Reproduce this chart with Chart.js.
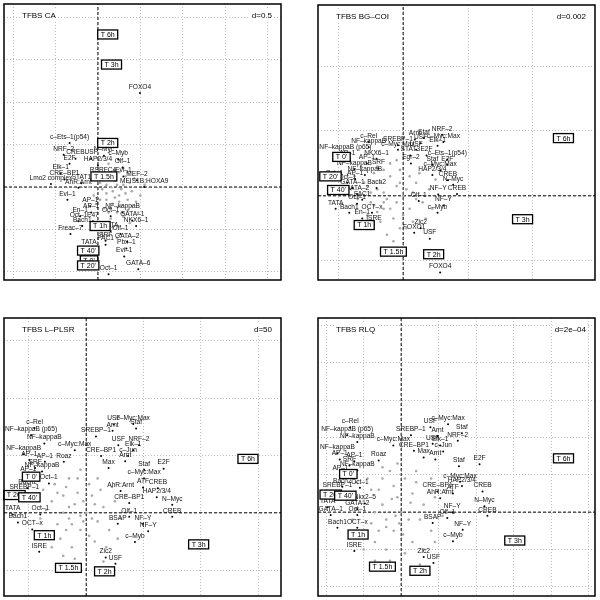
<!DOCTYPE html>
<html><head><meta charset="utf-8">
<script src="https://cdn.jsdelivr.net/npm/chart.js@4"></script>
<style>
html,body{margin:0;padding:0;background:#fff;width:600px;height:600px;overflow:hidden}
canvas{position:absolute}
</style></head><body>
<canvas id="c1" width="285" height="284" style="left:0px;top:0px"></canvas>
<canvas id="c2" width="285" height="283" style="left:314px;top:1px"></canvas>
<canvas id="c3" width="285" height="286" style="left:0px;top:314px"></canvas>
<canvas id="c4" width="285" height="286" style="left:314px;top:314px"></canvas>
<script>
// All coordinates are in grid units (one grid cell = d)
const timeLabels = ["T 0'","T 20'","T 40'","T 1h","T 1.5h","T 2h","T 3h","T 6h"];

// ---- Panel 1: TFBS CA (d=0.5)
const caRangeX = [-2.217, 4.319];
const caRangeY = [-2.194, 4.319];
const caNames = ["FOXO4","c–Ets–1(p54)","NRF–2","CREB","USF","N–Myc","c–Myb","E2F","HAP2/3/4","Olf–1","Elk–1","RSRFC4","Evi–1","CRE–BP1","MEF–2","Lmo2 complex","STAT1","AhR:Arnt","MEIS1B:HOXA9","Evi–1","AP–1","AP–1","NF–kappaB","En–1","Oct–1","GATA–1","Oct–1","E47","Bach1","NKX6–1","TATA","Freac–7","Olf–1","SRF","GATA–2","FAC1","TATA","Pbx–1","Evi–1","GATA–6","Oct–1"];
const caX = [0.99,-0.67,-0.81,-0.53,-0.16,0.14,0.48,-0.67,0,0.58,-0.88,0.12,0.6,-0.79,0.92,-1.11,-0.39,-0.46,1.09,-0.72,-0.18,-0.16,0.58,-0.42,0.30,0.81,-0.46,-0.12,-0.37,0.90,0.30,-0.65,0.53,0.18,0.69,0.18,-0.21,0.67,0.62,0.95,0.25];
const caY = [2.22,1.04,0.76,0.67,0.67,0.74,0.65,0.55,0.51,0.46,0.32,0.25,0.25,0.18,0.16,0.07,0.09,-0.02,0,-0.30,-0.46,-0.60,-0.60,-0.69,-0.69,-0.79,-0.81,-0.81,-0.92,-0.92,-1.04,-1.11,-1.11,-1.27,-1.29,-1.36,-1.45,-1.45,-1.64,-1.94,-2.06];
const caTimeX = [-0.21,-0.23,-0.23,0.05,0.14,0.23,0.32,0.23];
const caTimeY = [-1.73,-1.85,-1.50,-0.92,0.25,1.04,2.89,3.60];
const caCloud = [[0.35,-0.1],[0.5,-0.2],[0.2,-0.3],[0.6,0.05],[0.4,0.15],[0.1,-0.05],[0.7,-0.3],[0.25,0.3],[0.55,-0.45],[0.8,-0.1],[0.15,-0.5],[0.45,-0.6],[0.3,-0.75],[0.65,0.25],[0.05,0.1],[0.9,-0.35],[0.75,0.1],[0.35,-0.4],[0.2,0.05],[0.5,0.35],[-0.1,-0.2],[0.1,-0.85],[0.6,-0.7],[0.85,0.2],[0.4,-0.25],[0.3,0.0],[0.7,-0.55],[0.2,-0.15],[1.0,-0.2],[0.45,0.05],[0.55,-0.05],[0.15,0.2],[-0.05,-0.4],[0.35,-0.95],[0.65,-0.15],[0.25,-0.6],[0.8,-0.45],[0.5,-0.35],[0.05,-0.3],[0.4,0.4],[1.1,0.05],[0.6,0.45],[0.3,-0.5],[0.95,-0.6],[0.1,-1.1],[0.45,-1.2],[0.75,-0.85],[-0.2,0.0],[0.25,0.55],[0.7,0.35]];

// ---- Panel 2: TFBS BG-COI (d=0.002)
const bgRangeX = [-1.312, 2.956];
const bgRangeY = [-1.297, 2.941];
const bgNames = ["NRF–2","Arnt","Staf","c–Myc:Max","USF","SREBP–1","Elk–1","c–Rel","NF–kappaB","c–Myc:Max","USF","NF–kappaB (p65)","STAT3","E2F","AP–1","NKX6–1","c–Ets–1(p54)","Egr–2","Staf","E2F","AP–1","NF–kappaB","SRF","c–Myc:Max","NF–kappaB","HAP2/3/4","AP–1","Oct–1","CREB","Oct–1","N–Myc","GATA–1","Bach2","GATA–2","NF–Y","CREB","FAC1","Olf–1","Oct–1","TATA","NF–Y","Bach1","OCT–x","c–Myb","En–1","ISRE","Zic2","FOXO1","USF","FOXO4"];
const bgX = [0.60,0.18,0.32,0.62,0.27,-0.08,0.53,-0.53,-0.53,-0.08,0.20,-0.89,0.11,0.36,-0.86,-0.41,0.68,0.12,0.45,0.68,-0.56,-0.75,-0.38,0.57,-0.59,0.45,-0.74,-1.06,0.69,-0.86,0.77,-0.78,-0.41,-0.71,0.54,0.83,-0.63,0.24,-0.71,-1.04,0.62,-0.83,-0.48,0.53,-0.63,-0.45,0.27,0.17,0.41,0.57];
const bgY = [0.94,0.87,0.89,0.83,0.81,0.78,0.77,0.83,0.75,0.71,0.71,0.65,0.62,0.62,0.57,0.57,0.56,0.50,0.48,0.48,0.50,0.41,0.42,0.39,0.32,0.32,0.26,0.26,0.24,0.20,0.17,0.12,0.12,0.03,0.02,0.03,-0.06,-0.08,-0.12,-0.20,-0.15,-0.26,-0.26,-0.26,-0.35,-0.44,-0.50,-0.57,-0.66,-1.18];
const bgTimeX = [-0.95,-1.12,-1.00,-0.60,-0.15,0.47,1.84,2.47];
const bgTimeY = [0.60,0.30,0.09,-0.45,-0.86,-0.90,-0.36,0.89];
const bgCloud = [[-0.25,-0.05],[-0.4,0.1],[-0.1,0.15],[-0.3,-0.2],[-0.5,-0.1],[0.0,0.0],[-0.2,0.3],[-0.6,0.2],[0.1,-0.2],[-0.35,-0.4],[-0.15,-0.35],[0.2,0.2],[-0.45,0.35],[-0.05,0.4],[-0.7,-0.05],[0.15,0.05],[-0.3,0.05],[-0.55,-0.3],[0.05,-0.5],[-0.25,-0.6],[0.3,-0.1],[-0.1,-0.1],[-0.4,-0.25],[0.25,0.35],[-0.65,0.45],[-0.2,0.5],[0.4,0.1],[-0.8,0.1],[-0.05,0.2],[-0.35,0.2],[0.1,0.3],[-0.15,-0.7],[0.35,-0.35],[-0.5,0.05],[-0.3,-0.1],[0.0,-0.3],[-0.6,-0.45],[0.5,0.25],[-0.45,-0.15],[0.2,-0.05],[-0.1,0.55],[-0.75,0.3],[0.05,0.1],[-0.2,-0.2],[0.15,-0.4],[-0.4,0.45],[0.45,-0.2],[-0.55,0.15],[-0.3,0.4],[-0.05,-0.5]];

// ---- Panel 3: TFBS L-PLSR (d=50)
const plRangeX = [-1.433, 3.396];
const plRangeY = [-1.45, 3.396];
const plNames = ["USF","c–Myc:Max","Staf","Arnt","c–Rel","NF–kappaB (p65)","SREBP–1","NF–kappaB","USF","NRF–2","c–Myc:Max","NF–kappaB","Elk–1","CRE–BP1","c–Jun","AP–1","AP–1","Roaz","Arnt","Max","SRF","Staf","E2F","NF–kappaB","AP–1","c–Myc:Max","Oct–1","Bach2","ATF","CREB","AhR:Arnt","SREBP–1","HAP2/3/4","CRE–BP1","N–Myc","TATA","Oct–1","Olf–1","CREB","Bach1","BSAP","NF–Y","OCT–x","NF–Y","c–Myb","ISRE","Zic2","USF"];
const plX = [0.48,0.82,0.87,0.46,-0.90,-0.96,0.17,-0.73,0.56,0.92,-0.20,-1.09,0.82,0.26,0.73,-0.99,-0.72,-0.39,0.68,0.39,-0.89,1.01,1.35,-0.77,-1.01,1.01,-0.65,-1.02,0.99,1.25,0.60,-1.08,1.23,0.75,1.50,-1.28,-0.80,0.75,1.50,-1.19,0.55,0.99,-0.94,1.08,0.85,-0.82,0.34,0.51];
const plY = [1.54,1.55,1.47,1.43,1.48,1.35,1.33,1.21,1.18,1.18,1.09,1.02,1.09,0.99,0.99,0.92,0.89,0.89,0.90,0.78,0.78,0.75,0.77,0.72,0.65,0.60,0.51,0.43,0.44,0.43,0.38,0.34,0.27,0.17,0.14,-0.03,-0.03,-0.07,-0.07,-0.17,-0.19,-0.19,-0.29,-0.32,-0.51,-0.68,-0.78,-0.89];
const plTimeX = [-0.96,-1.25,-0.99,-0.73,-0.31,0.32,1.96,2.82];
const plTimeY = [0.63,0.31,0.27,-0.39,-0.96,-1.02,-0.55,0.94];
const plCloud = [[-0.2,0.15],[-0.4,0.3],[0.0,0.0],[-0.3,-0.1],[-0.6,0.2],[0.1,0.3],[-0.1,-0.3],[-0.5,-0.2],[0.2,-0.15],[-0.35,0.45],[-0.7,0.05],[0.05,0.5],[-0.15,0.6],[0.3,0.1],[-0.45,-0.45],[-0.25,-0.6],[0.15,-0.5],[-0.8,-0.1],[-0.05,0.2],[-0.55,0.5],[0.4,-0.3],[-0.3,0.1],[-0.1,-0.05],[0.25,0.4],[-0.65,-0.35],[0.5,0.2],[-0.2,-0.8],[0.0,-0.7],[-0.4,0.0],[0.35,-0.6],[-0.9,0.25],[-0.15,0.35],[0.1,-0.1],[-0.5,0.35],[0.6,-0.1],[-0.35,-0.3],[0.2,0.6],[-0.75,0.4],[0.45,0.45],[-0.25,-0.2],[0.05,-0.4],[-0.6,-0.6],[0.7,0.3],[-0.1,0.75],[0.3,-0.85],[-0.4,-0.75],[0.15,0.15],[-0.3,0.6],[0.55,-0.45],[-0.05,-0.15]];

// ---- Panel 4: TFBS RLQ (d=2e-04)
const rlRangeX = [-2.219, 5.17];
const rlRangeY = [-2.245, 5.196];
const rlNames = ["USF","c–Myc:Max","c–Rel","Staf","NF–kappaB (p65)","SREBP–1","Arnt","NF–kappaB","USF","NRF–2","c–Myc:Max","Elk–1","NF–kappaB","CRE–BP1","c–Jun","Max","Arnt","AP–1","AP–1","Roaz","SRF","Staf","E2F","NF–kappaB","AP–1","c–Myc:Max","HAP2/3/4","Bach2","Oct–1","CRE–BP1","ATF","CREB","SREBP–1","AhR:Arnt","Nkx2–5","N–Myc","TATA","GATA–2","NF–Y","GATA–1","Oct–1","Olf–1","CREB","BSAP","Bach1","OCT–x","NF–Y","c–Myb","ISRE","Zic2","USF"];
const rlX = [0.78,1.25,-1.36,1.62,-1.44,0.26,0.97,-1.17,0.84,1.51,-0.21,1.04,-1.70,0.34,1.12,0.60,0.91,-1.64,-1.25,-0.60,-1.38,1.54,2.09,-1.17,-1.62,1.57,1.62,-1.57,-1.10,0.97,1.38,2.17,-1.70,1.04,-0.97,2.22,-1.96,-1.17,1.36,-1.88,-1.17,1.23,2.30,0.84,-1.70,-1.17,1.64,1.38,-1.25,0.60,0.86];
const rlY = [2.27,2.35,2.27,2.11,2.06,2.06,2.04,1.88,1.83,1.91,1.78,1.78,1.57,1.64,1.62,1.46,1.41,1.41,1.36,1.38,1.25,1.23,1.28,1.12,1.02,0.81,0.70,0.68,0.65,0.55,0.50,0.55,0.55,0.37,0.23,0.16,0.13,0.08,0.00,-0.08,-0.08,-0.16,-0.10,-0.29,-0.42,-0.42,-0.47,-0.78,-1.04,-1.20,-1.36];
const rlTimeX = [-1.41,-1.88,-1.49,-1.15,-0.50,0.50,3.03,4.33];
const rlTimeY = [1.02,0.47,0.44,-0.60,-1.46,-1.57,-0.76,1.44];
const rlCloud = [[-0.25,0.35],[-0.6,0.6],[0.0,0.0],[-0.4,-0.2],[-1.0,0.3],[0.3,0.5],[-0.2,-0.5],[-0.8,-0.3],[0.5,-0.2],[-0.5,0.9],[-1.2,0.1],[0.1,0.9],[-0.3,1.1],[0.6,0.2],[-0.7,-0.8],[-0.4,-1.0],[0.3,-0.8],[-1.3,-0.2],[-0.1,0.4],[-0.9,0.9],[0.8,-0.5],[-0.5,0.2],[-0.15,-0.1],[0.4,0.8],[-1.1,-0.6],[0.9,0.4],[-0.3,-1.3],[0.1,-1.1],[-0.7,0.0],[0.6,-1.0],[-1.5,0.5],[-0.2,0.7],[0.2,-0.2],[-0.8,0.6],[1.1,-0.1],[-0.6,-0.5],[0.4,1.1],[-1.2,0.8],[0.8,0.9],[-0.4,-0.4],[0.05,-0.6],[-1.0,-1.0],[1.2,0.6],[-0.1,1.3],[0.5,-1.4],[-0.7,-1.3],[0.25,0.25],[-0.5,1.2],[0.9,-0.8],[-0.05,-0.3]];

const FONT = '"Liberation Sans", Arial, Helvetica, sans-serif';

function makePanel(id, title, dText, rx, ry, names, xs, ys, tx, ty, cloud) {
  const labelled = xs.map((x, i) => ({x: x, y: ys[i]}));
  const times = tx.map((x, i) => ({x: x, y: ty[i]}));
  const cloudPts = cloud.map(p => ({x: p[0], y: p[1]}));
  const decor = {
    id: 'decor' + id,
    afterDatasetsDraw(chart) {
      const ctx = chart.ctx, a = chart.chartArea;
      ctx.save();
      ctx.fillStyle = '#111';
      ctx.font = '6.6px ' + FONT;
      ctx.textAlign = 'center';
      ctx.textBaseline = 'middle';
      const m3 = chart.getDatasetMeta(3);
      m3.data.forEach((el, i) => { ctx.fillText(names[i], el.x, el.y - 6); });
      ctx.font = '7px ' + FONT;
      const m4 = chart.getDatasetMeta(4);
      m4.data.forEach((el, i) => {
        const w = ctx.measureText(timeLabels[i]).width + 6;
        const h = 9;
        ctx.fillStyle = '#fff';
        ctx.fillRect(el.x - w / 2, el.y - h / 2, w, h);
        ctx.strokeStyle = '#000';
        ctx.lineWidth = 1.3;
        ctx.strokeRect(el.x - w / 2, el.y - h / 2, w, h);
        ctx.fillStyle = '#000';
        ctx.fillText(timeLabels[i], el.x, el.y + 0.5);
      });
      ctx.font = '8px ' + FONT;
      ctx.textAlign = 'left';
      let tw = ctx.measureText(title).width;
      ctx.fillStyle = '#fff';
      ctx.fillRect(a.left + 16, a.top + 6, tw + 4, 11);
      ctx.fillStyle = '#000';
      ctx.fillText(title, a.left + 18, a.top + 12);
      ctx.textAlign = 'right';
      tw = ctx.measureText(dText).width;
      ctx.fillStyle = '#fff';
      ctx.fillRect(a.right - 11 - tw, a.top + 6, tw + 4, 11);
      ctx.fillStyle = '#000';
      ctx.fillText(dText, a.right - 9, a.top + 12);
      ctx.strokeStyle = '#000';
      ctx.lineWidth = 1.5;
      ctx.strokeRect(a.left, a.top, a.right - a.left, a.bottom - a.top);
      ctx.restore();
    }
  };
  const axisCommon = (r) => ({
    type: 'linear', min: r[0], max: r[1],
    ticks: {display: false, stepSize: 1, includeBounds: false},
    grid: {color: '#bdbdbd', lineWidth: 1, drawTicks: false},
    border: {display: false, dash: [1, 2]}
  });
  return new Chart(document.getElementById(id), {
    type: 'scatter',
    data: {
      datasets: [
        {data: [{x: 0, y: ry[0]}, {x: 0, y: ry[1]}], showLine: true, borderColor: '#000', borderWidth: 1, borderDash: [3, 2], pointRadius: 0, order: 6},
        {data: [{x: rx[0], y: 0}, {x: rx[1], y: 0}], showLine: true, borderColor: '#000', borderWidth: 1, borderDash: [3, 2], pointRadius: 0, order: 5},
        {data: cloudPts, pointRadius: 1.3, backgroundColor: '#a9a9a9', borderWidth: 0, order: 4},
        {data: labelled, pointRadius: 1, backgroundColor: '#000', borderWidth: 0, order: 3},
        {data: times, pointRadius: 0, order: 2}
      ]
    },
    options: {
      responsive: false, animation: false, events: [],
      layout: {padding: 1},
      plugins: {legend: {display: false}, tooltip: {enabled: false}, title: {display: false}},
      scales: {x: axisCommon(rx), y: axisCommon(ry)}
    },
    plugins: [decor]
  });
}

makePanel('c1', 'TFBS CA', 'd=0.5', caRangeX, caRangeY, caNames, caX, caY, caTimeX, caTimeY, caCloud);
makePanel('c2', 'TFBS BG–COI', 'd=0.002', bgRangeX, bgRangeY, bgNames, bgX, bgY, bgTimeX, bgTimeY, bgCloud);
makePanel('c3', 'TFBS L–PLSR', 'd=50', plRangeX, plRangeY, plNames, plX, plY, plTimeX, plTimeY, plCloud);
makePanel('c4', 'TFBS RLQ', 'd=2e–04', rlRangeX, rlRangeY, rlNames, rlX, rlY, rlTimeX, rlTimeY, rlCloud);
</script>
</body></html>
